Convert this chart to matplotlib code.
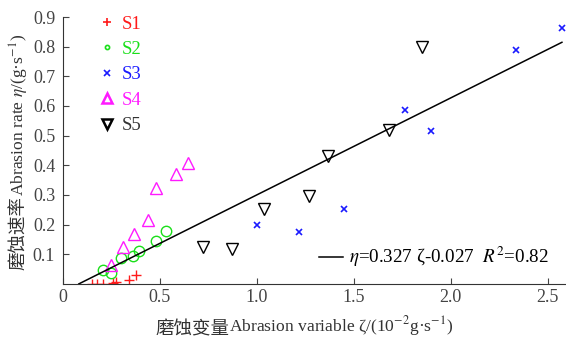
import numpy as np
import matplotlib
matplotlib.use('Agg')
from matplotlib import pyplot as plt

plt.rcParams['font.family'] = ['Liberation Serif', 'Noto Sans CJK SC', 'DejaVu Serif']
plt.rcParams['mathtext.fontset'] = 'stix'
plt.rcParams['font.size'] = 13

# data
s1_x = [0.148, 0.177, 0.208, 0.259, 0.272, 0.340, 0.376]
s1_y = [0.0, 0.0, 0.0, 0.004, 0.008, 0.014, 0.030]
s2_x = [0.205, 0.251, 0.299, 0.362, 0.392, 0.483, 0.531]
s2_y = [0.047, 0.038, 0.089, 0.095, 0.112, 0.143, 0.179]
s3_x = [1.002, 1.216, 1.450, 1.766, 1.900, 2.339, 2.574]
s3_y = [0.198, 0.176, 0.252, 0.588, 0.515, 0.788, 0.864]
s4_x = [0.251, 0.308, 0.368, 0.440, 0.478, 0.586, 0.646]
s4_y = [0.064, 0.123, 0.168, 0.216, 0.325, 0.371, 0.408]
s5_x = [0.723, 0.875, 1.036, 1.270, 1.368, 1.682, 1.852]
s5_y = [0.124, 0.117, 0.253, 0.295, 0.432, 0.518, 0.800]
slope, intercept = 0.327, -0.027

fig = plt.figure(figsize=(5.66, 3.4), dpi=100)
ax = fig.add_axes([0.111, 0.165, 0.889, 0.785])

h1, = ax.plot(s1_x, s1_y, '+', c='#ff1a1a', ms=7, mew=1.0, ls='none', label='S1')
h2, = ax.plot(s2_x, s2_y, 'o', mfc='none', mec='#1adf1a', ms=7.5, mew=1.0, ls='none', label='S2')
h3, = ax.plot(s3_x, s3_y, 'x', c='#1a1aff', ms=5, mew=1.2, ls='none', label='S3')
h4, = ax.plot(s4_x, s4_y, '^', mfc='none', mec='#ff1aff', ms=8.5, mew=1.0, ls='none', label='S4')
h5, = ax.plot(s5_x, s5_y, 'v', mfc='none', mec='k', ms=8.5, mew=1.0, ls='none', label='S5')

fx = np.array([-intercept / slope, max(s3_x)])
hf, = ax.plot(fx, slope * fx + intercept, c='k', lw=1.1,
              label=r'$\eta$=0.327 ζ-0.027  $R^2$=0.82')

leg = ax.legend(handles=[h1, h2, h3, h4, h5], loc='upper left', bbox_to_anchor=(0.031, 1.069),
                frameon=False, labelspacing=0.44, handletextpad=0.2, handlelength=1.2,
                labelcolor=['#ff1a1a', '#1adf1a', '#1a1aff', '#ff1aff', '#333333'],
                prop={'size': 13.5})
sizes = [6, 3, 5, 7, 7]
for hh, s in zip(leg.legend_handles, sizes):
    hh.set_markersize(s)
    hh.set_markeredgewidth(1.8 if s == 7 else 1.2)
ax.add_artist(leg)
ax.legend(handles=[hf], loc='lower right', bbox_to_anchor=(1.0, -0.01), frameon=False,
          handlelength=1.3, handletextpad=0.3, prop={'size': 13.7})

ax.set_xlim(0, 2.595)
ax.set_ylim(0, 0.9)
ax.set_xticks([0, 0.5, 1.0, 1.5, 2.0, 2.5])
ax.set_xticklabels(['0', '0.5', '1.0', '1.5', '2.0', '2.5'])
ax.set_yticks(np.arange(1, 10) / 10)
ax.set_yticklabels(['%.1f' % v for v in np.arange(1, 10) / 10])
ax.tick_params(direction='in', length=4, colors='#444444', labelsize=13)
ax.tick_params(axis='y', pad=5.5)
ax.spines['top'].set_visible(False)
ax.spines['right'].set_visible(False)
for sp in ('left', 'bottom'):
    ax.spines[sp].set_color('#333333')

# axis labels: Chinese part + Latin/math part
ty = fig.text(0.034, 0.206, '磨蚀速率', rotation=90, ha='center', va='bottom',
              family='Noto Sans CJK SC', fontsize=13.3, color='#333333')
ax.annotate(r'Abrasion rate $\eta$/(g·s$^{-1}$)', xy=(0.5, 1), xycoords=ty,
            rotation=90, ha='center', va='bottom', fontsize=12.6, color='#333333')
tx = fig.text(0.274, 0.032, '磨蚀变量', ha='left', va='center',
              family='Noto Sans CJK SC', fontsize=13.3, color='#333333')
ax.annotate(r'Abrasion variable ζ/(10$^{-2}$g·s$^{-1}$)', xy=(1, 0.0), xycoords=tx,
            ha='left', va='bottom', fontsize=12.6, color='#333333')

fig.savefig('out.png', dpi=100)
